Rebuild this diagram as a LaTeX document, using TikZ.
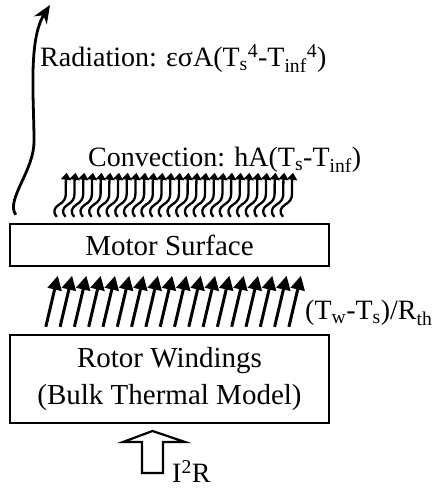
\documentclass[tikz,border=0pt]{standalone}
\usepackage{fontspec}
\setmainfont{Liberation Serif}
\usetikzlibrary{positioning,arrows.meta,calc}
\newcommand{\lo}[1]{\textsubscript{#1}}
\newcommand{\hi}[1]{\textsuperscript{#1}}

\begin{document}
\begin{tikzpicture}[
  x=1pt, y=1pt,
  box/.style={draw, line width=2.4pt, minimum width=319pt, align=center, font=\fontsize{29}{37}\selectfont, inner sep=0pt},
  lbl/.style={font=\fontsize{28}{32}\selectfont, inner sep=0pt},
  cond/.style={-{Triangle[length=14pt,width=14pt]}, line width=3pt},
  conv/.style={-{Triangle[length=7pt,width=10pt]}, line width=2.3pt},
  rad/.style={-{Stealth[length=18pt,width=15pt]}, line width=2.8pt}
]
\useasboundingbox (0,0) rectangle (435,489);
\node[box, minimum height=42pt] (surf) at (169.5,244) {Motor Surface};
\node[box, minimum height=88pt] (wind) at (169.5,110) {Rotor Windings\\(Bulk Thermal Model)};
% conduction from windings to surface
\foreach \i in {0,...,17}
  \draw[cond] ($(wind.north west)+(37+14.3*\i,7)$) -- ++(12,51);
% convection off the surface
\foreach \i in {0,...,26}
  \draw[conv] ($(surf.north west)+(48+8.7*\i,6)$) .. controls +(-4,4) and +(-5,-3) .. ++(2,12)
    .. controls +(5,3) and +(0,-5) .. ++(7,11) .. controls +(0,5) and +(-1,-8) .. ++(1,21);
% radiation
\coordinate (radbase) at ($(surf.north west)+(7,8)$);
\coordinate (radtip) at (50,484);
\draw[rad] (radbase) .. controls (5,289) and (35,319) .. (34,349) .. controls (34,389) and (28,449) .. (radtip);
% joule heating
\draw[line width=2.2pt] (142,16) -- (142,47) -- (123,47) -- (152.5,58) -- (185,47) -- (163,47) -- (163,16) -- cycle;
\node[lbl, anchor=base west] (radl) at (40,422) {Radiation: εσA(T\lo{s}\hi{4}-T\lo{inf}\hi{4})};
\node[lbl, anchor=base west] (convl) at (88,322) {Convection: hA(T\lo{s}-T\lo{inf})};
\node[lbl, anchor=base west] (condl) at (305,169) {(T\lo{w}-T\lo{s})/R\lo{th}};
\node[lbl, anchor=base west] (heat) at (172,6) {I\hi{2}R};
\end{tikzpicture}
\end{document}
